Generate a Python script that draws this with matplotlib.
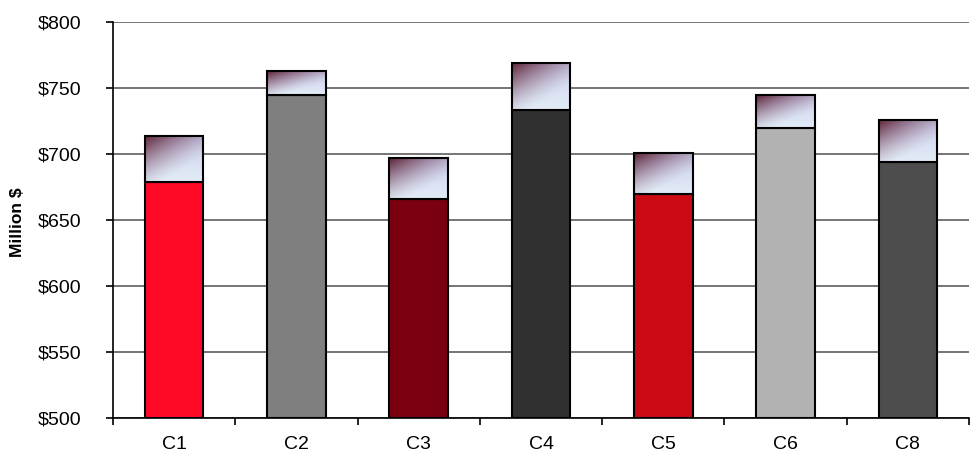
import numpy as np
import matplotlib
matplotlib.use("Agg")
import matplotlib.pyplot as plt
from matplotlib.ticker import FuncFormatter, FixedLocator

plt.rcParams['font.family'] = ['Liberation Sans', 'DejaVu Sans']

categories = ["C1", "C2", "C3", "C4", "C5", "C6", "C8"]
base_values = [679, 745, 666, 733, 670, 720, 694]
total_values = [714, 763, 697, 769, 701, 745, 726]
base_colors = ["#FF0A26", "#7F7F7F", "#7A0010", "#303030", "#CC0A14", "#B2B2B2", "#4D4D4D"]

fig = plt.figure(figsize=(9.71, 4.57), dpi=100)
ax = fig.add_axes([113 / 971, 1 - 418 / 457, 856 / 971, 396 / 457])

ymin, ymax = 500, 800
x = np.arange(len(categories)) + 0.5
width = 0.48

# gradient used for the upper segment of each bar
ny, nx = 60, 60
gy, gx = np.mgrid[0:1:ny * 1j, 0:1:nx * 1j]  # gy: 0 top -> 1 bottom
d = np.clip(1.0 - (0.8 * gy + 0.6 * gx), 0, 1) ** 1.5
dark = np.array([95, 35, 55]) / 255.0
light = np.array([205, 208, 240]) / 255.0
bottom_light = np.array([226, 236, 246]) / 255.0
mid = light[None, None, :] * (1 - gy[..., None]) + bottom_light[None, None, :] * gy[..., None]
grad = mid * (1 - d[..., None]) + dark[None, None, :] * d[..., None]

ax.set_xlim(0, len(categories))
ax.set_ylim(ymin, ymax)

ax.bar(x, np.array(base_values) - ymin, bottom=ymin, width=width,
       color=base_colors, edgecolor="black", linewidth=1.5, zorder=3)
for xi, b, t in zip(x, base_values, total_values):
    ax.imshow(grad, extent=(xi - width / 2, xi + width / 2, b, t),
              aspect="auto", origin="upper", zorder=3, interpolation="bilinear")
ax.bar(x, np.array(total_values) - np.array(base_values), bottom=base_values,
       width=width, facecolor="none", edgecolor="black", linewidth=1.5, zorder=4)

ax.set_xlim(0, len(categories))
ax.set_ylim(ymin, ymax)

ax.set_yticks(np.arange(500, 801, 50))
ax.yaxis.set_major_formatter(FuncFormatter(lambda v, p: "\\$%d" % v))
ax.yaxis.grid(True, color="#6a6a6a", linewidth=1.3, zorder=1)
ax.set_axisbelow(True)

ax.xaxis.set_major_locator(FixedLocator(np.arange(0, len(categories) + 1)))
ax.xaxis.set_major_formatter(FuncFormatter(lambda v, p: ""))
ax.xaxis.set_minor_locator(FixedLocator(x))
ax.set_xticklabels(categories, minor=True)
ax.tick_params(axis="x", which="minor", length=0, pad=13, labelsize=14)
ax.tick_params(axis="x", which="major", length=5, width=1.2, direction="out")
ax.tick_params(axis="y", length=5, width=1.2, direction="out", labelsize=14, pad=18)

for s in ["top", "right"]:
    ax.spines[s].set_visible(False)
ax.spines["left"].set_linewidth(1.2)
ax.spines["bottom"].set_linewidth(1.2)

fig.text(18 / 971, 1 - 222 / 457, "Million \\$", rotation=90, ha="center", va="center",
         fontsize=12.5, fontweight="bold")

fig.savefig("out.png", dpi=100)
